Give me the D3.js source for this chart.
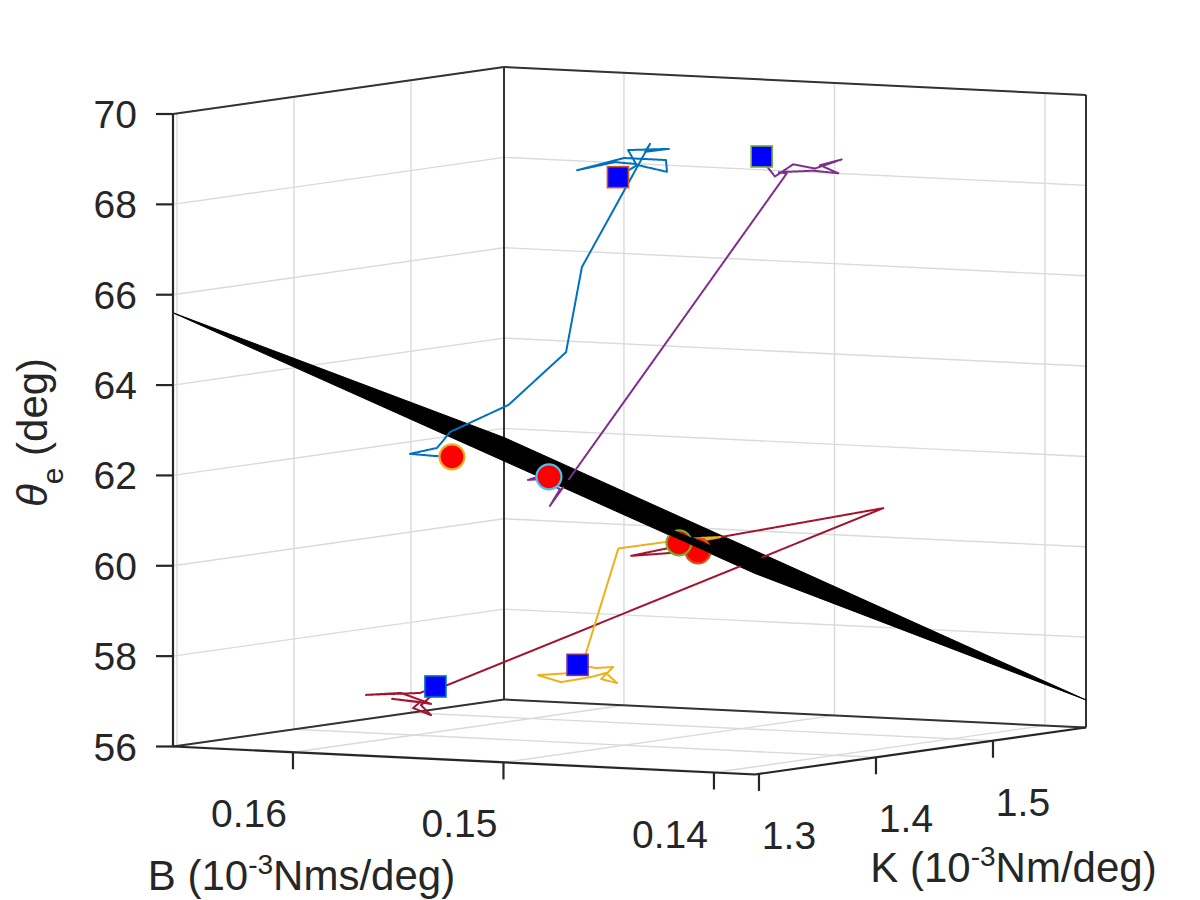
<!DOCTYPE html>
<html><head><meta charset="utf-8">
<script src="https://cdn.jsdelivr.net/npm/d3@7"></script>
<style>body{margin:0;background:#fff} svg{display:block}</style>
</head><body>
<svg id="c" width="1200" height="900"></svg>
<script>
// ---------------- data ----------------
const bLim = [0.13805, 0.1657];   // B axis limits (10^-3 Nms/deg)
const kLim = [1.2966, 1.5795];    // K axis limits (10^-3 Nm/deg)
const zLim = [56, 70];            // theta_e limits (deg)
const bTicks = [0.16, 0.15, 0.14];
const bTickLabels = ["0.16", "0.15", "0.14"];
const kTicks = [1.3, 1.4, 1.5];
const kTickLabels = ["1.3", "1.4", "1.5"];
const zTicks = [56, 58, 60, 62, 64, 66, 68, 70];
const zTickLabels = ["56", "58", "60", "62", "64", "66", "68", "70"];

// black surface (rows: B values, cols: K values)
const surfB = [0.1657, 0.13805];
const surfK = [1.2966, 1.5795];
const surfZ = [[65.60, 61.80], [60.45, 56.61]];

// trajectories
const blueB = [0.15321,0.15230,0.15088,0.15093,0.15292,0.15515,0.15335,0.15235,0.15273,0.15079,0.15192,0.15169,0.15335,0.15253,0.15369,0.15331,0.15394,0.15523,0.15404,0.15323];
const blueK = [1.4522,1.4522,1.4522,1.4522,1.4522,1.4522,1.4522,1.4522,1.4522,1.4522,1.4522,1.4522,1.4239,1.3956,1.3673,1.3107,1.3107,1.3107,1.3107,1.3107];
const blueZ = [68.31,68.60,68.48,68.74,68.74,68.42,68.64,68.62,68.92,68.99,68.90,69.08,66.42,64.66,63.57,63.19,62.82,62.66,62.64,62.64];

const purpleB = [0.14481,0.14444,0.14475,0.14418,0.14331,0.14228,0.14101,0.14204,0.14117,0.14236,0.14399,0.14362,0.15487,0.15203,0.15062,0.15041,0.14919,0.14784];
const purpleK = [1.4239,1.4239,1.4239,1.4239,1.4239,1.4239,1.4239,1.4239,1.4239,1.4239,1.4239,1.4239,1.4239,1.3815,1.3390,1.3249,1.3107,1.2966];
const purpleZ = [69.06,68.92,68.96,68.63,68.92,68.85,69.08,68.93,68.77,68.80,68.73,68.71,61.10,61.69,62.10,62.14,62.28,62.37];

const redB = [0.15795,0.15868,0.16125,0.15959,0.15816,0.16001,0.15868,0.15901,0.15816,0.15864,0.15773,0.14768,0.14905,0.15023,0.14626];
const redK = [1.3815,1.3815,1.3815,1.3815,1.3815,1.3815,1.3815,1.3815,1.3815,1.3815,1.3815,1.5795,1.4663,1.4098,1.3956];
const redZ = [57.19,57.03,56.93,57.01,56.80,56.87,56.83,56.69,56.55,56.76,57.16,60.64,60.39,60.15,60.40];

const yellowB = [0.15120,0.15032,0.14951,0.15008,0.14932,0.14985,0.15051,0.15199,0.15308,0.15156,0.15099,0.14926,0.14693,0.14538,0.14443,0.14514,0.14638];
const yellowK = [1.3815,1.3815,1.3815,1.3815,1.3815,1.3815,1.3815,1.3815,1.3815,1.3815,1.3815,1.3815,1.3815,1.3815,1.3815,1.3815,1.3815];
const yellowZ = [57.82,57.77,57.81,57.53,57.46,57.67,57.57,57.42,57.55,57.63,57.80,60.44,60.64,60.76,60.80,60.72,60.63];

const trajColors  = ["#0072BD", "#7E2F8E", "#A2142F", "#EDB120"];
const squareEdges = ["#D95319", "#77AC30", "#0072BD", "#7E2F8E"];
const circleEdges = ["#EDB120", "#4DBEEE", "#D95319", "#77AC30"];

// ---------------- projection ----------------
const O = [173, 746.5], AX = [582, 28], AY = [331, -47], AZ = [0, -632.5];
const uS = d3.scaleLinear().domain([bLim[1], bLim[0]]).range([0, 1]);
const vS = d3.scaleLinear().domain([kLim[0], kLim[1]]).range([0, 1]);
const wS = d3.scaleLinear().domain(zLim).range([0, 1]);
function P(u, v, w) {
  return [O[0] + u*AX[0] + v*AY[0] + w*AZ[0], O[1] + u*AX[1] + v*AY[1] + w*AZ[1]];
}
function PD(b, k, z) { return P(uS(b), vS(k), wS(z)); }

// orthographic depth reconstruction
const ratio = -(AY[0]*AY[1]) / (AX[0]*AX[1]);
const p2 = AX[0]*AX[0] + AY[0]*AY[0]/ratio, q2 = ratio*p2;
const r2 = AZ[1]*AZ[1] / (1 - AX[1]*AX[1]/p2 - AY[1]*AY[1]/q2);
const pp = Math.sqrt(p2), qq = Math.sqrt(q2), rr = Math.sqrt(r2);
const R1 = [AX[0]/pp, AY[0]/qq, AZ[0]/rr], R2 = [AX[1]/pp, AY[1]/qq, AZ[1]/rr];
let R3 = [R1[1]*R2[2]-R1[2]*R2[1], R1[2]*R2[0]-R1[0]*R2[2], R1[0]*R2[1]-R1[1]*R2[0]];
function depthRaw(u, v, w) { return R3[0]*pp*u + R3[1]*qq*v + R3[2]*rr*w; }
if (depthRaw(0, 1, 0) < depthRaw(1, 0, 0)) R3 = R3.map(d => -d);
const depth = depthRaw;

// plane
const su = surfB.map(uS), sv = surfK.map(vS);
const w00 = wS(surfZ[0][0]), w10 = wS(surfZ[1][0]), w01 = wS(surfZ[0][1]);
const a1 = (w10 - w00)/(su[1]-su[0]), a2 = (w01 - w00)/(sv[1]-sv[0]);
const a0 = w00 - a1*su[0] - a2*sv[0];
const uMin = Math.min(...su), uMax = Math.max(...su), vMin = Math.min(...sv), vMax = Math.max(...sv);
function planeAt(x, y) {
  const m00 = AX[0]+a1*AZ[0], m01 = AY[0]+a2*AZ[0], m10 = AX[1]+a1*AZ[1], m11 = AY[1]+a2*AZ[1];
  const r0 = x - O[0] - a0*AZ[0], r1 = y - O[1] - a0*AZ[1];
  const det = m00*m11 - m01*m10;
  const u = (r0*m11 - m01*r1)/det, v = (m00*r1 - m10*r0)/det;
  return {u, v, w: a0 + a1*u + a2*v};
}
function hidden(u, v, w) {
  const s = P(u, v, w), q = planeAt(s[0], s[1]);
  if (q.u < uMin || q.u > uMax || q.v < vMin || q.v > vMax) return false;
  return depth(q.u, q.v, q.w) < depth(u, v, w) - 0.01;
}

// ---------------- drawing ----------------
const svg = d3.select("#c");
const defs = svg.append("defs");
const gGrid = svg.append("g"), gBox = svg.append("g"), gSurf = svg.append("g"),
      gLines = svg.append("g"), gMark = svg.append("g"), gAxes = svg.append("g"), gText = svg.append("g");
const FONT = "'Liberation Sans', Arial, Helvetica, sans-serif";
const AXC = "#262626";

function seg(g, a, b, color, width) {
  g.append("line").attr("x1", a[0]).attr("y1", a[1]).attr("x2", b[0]).attr("y2", b[1])
    .attr("stroke", color).attr("stroke-width", width).attr("stroke-linecap", "butt");
}
const GC = "#dadada", GW = 1.4;
zTicks.forEach(z => {
  const w = wS(z);
  seg(gGrid, P(0,0,w), P(0,1,w), GC, GW);
  seg(gGrid, P(0,1,w), P(1,1,w), GC, GW);
});
kTicks.forEach(k => {
  const v = vS(k);
  seg(gGrid, P(0,v,0), P(0,v,1), GC, GW);
  seg(gGrid, P(0,v,0), P(1,v,0), GC, GW);
});
bTicks.forEach(b => {
  const u = uS(b);
  seg(gGrid, P(u,1,0), P(u,1,1), GC, GW);
  seg(gGrid, P(u,0,0), P(u,1,0), GC, GW);
});
const BC = "#333333", BW = 2;
seg(gBox, P(0,0,1), P(0,1,1), BC, BW);
seg(gBox, P(0,1,1), P(1,1,1), BC, BW);
seg(gBox, P(0,1,0), P(0,1,1), BC, BW);
seg(gBox, P(1,1,0), P(1,1,1), BC, BW);
seg(gBox, P(0,0,0), P(0,1,0), BC, BW);
seg(gBox, P(0,1,0), P(1,1,0), BC, BW);

// surface
const quad = [[0,0],[0,1],[1,1],[1,0]].map(([i,j]) => PD(surfB[i], surfK[j], surfZ[i][j]));
gSurf.append("polygon").attr("points", quad.map(d => d.join(",")).join(" "))
  .attr("fill", "#000").attr("stroke", "#000").attr("stroke-width", 1).attr("stroke-linejoin", "round");

// trajectories with occlusion by surface
const trajs = [[blueB, blueK, blueZ], [purpleB, purpleK, purpleZ], [redB, redK, redZ], [yellowB, yellowK, yellowZ]];
trajs.forEach(([B, K, Z], ti) => {
  const pts = B.map((b, i) => [uS(b), vS(K[i]), wS(Z[i])]);
  let d = "", down = false;
  for (let i = 0; i < pts.length - 1; i++) {
    const a = pts[i], b = pts[i+1];
    const sa = P(...a), sb = P(...b);
    const n = Math.max(1, Math.ceil(Math.hypot(sb[0]-sa[0], sb[1]-sa[1]) / 1.0));
    for (let k = 0; k < n; k++) {
      const t0 = k/n, t1 = (k+1)/n, tm = (t0+t1)/2;
      const m = [0,1,2].map(c => a[c] + tm*(b[c]-a[c]));
      const vis = !hidden(...m);
      if (vis) {
        const p0 = [sa[0]+t0*(sb[0]-sa[0]), sa[1]+t0*(sb[1]-sa[1])];
        const p1 = [sa[0]+t1*(sb[0]-sa[0]), sa[1]+t1*(sb[1]-sa[1])];
        if (!down) d += `M${p0[0].toFixed(2)},${p0[1].toFixed(2)}`;
        d += `L${p1[0].toFixed(2)},${p1[1].toFixed(2)}`;
        down = true;
      } else down = false;
    }
  }
  gLines.append("path").attr("d", d).attr("fill", "none").attr("stroke", trajColors[ti])
    .attr("stroke-width", 2).attr("stroke-linejoin", "round").attr("stroke-linecap", "round");
});

// markers, with the part lying behind the surface covered
function clipPoly(poly, g) {
  const out = [];
  for (let i = 0; i < poly.length; i++) {
    const a = poly[i], b = poly[(i+1) % poly.length];
    const ga = g(a), gb = g(b);
    if (ga <= 0) out.push(a);
    if ((ga <= 0) !== (gb <= 0)) {
      const t = ga/(ga-gb);
      out.push([a[0]+t*(b[0]-a[0]), a[1]+t*(b[1]-a[1])]);
    }
  }
  return out;
}
let clipId = 0;
function cover(uvw, shapeFn) {
  const s = P(...uvw), dm = depth(...uvw);
  const pd = (x, y) => { const q = planeAt(x, y); return depth(q.u, q.v, q.w); };
  const g0 = pd(s[0], s[1]) - dm, gx = pd(s[0]+1, s[1]) - dm - g0, gy = pd(s[0], s[1]+1) - dm - g0;
  const g = pt => g0 + gx*(pt[0]-s[0]) + gy*(pt[1]-s[1]);
  const poly = clipPoly(quad, g);
  if (poly.length < 3) return;
  const id = "mk" + (clipId++);
  shapeFn(defs.append("clipPath").attr("id", id));
  gMark.append("polygon").attr("points", poly.map(d => d.join(",")).join(" "))
    .attr("fill", "#000").attr("clip-path", `url(#${id})`);
}
trajs.forEach(([B, K, Z], ti) => {
  const n = B.length;
  const a = [uS(B[0]), vS(K[0]), wS(Z[0])], sa = P(...a);
  gMark.append("rect").attr("x", sa[0]-10.5).attr("y", sa[1]-10.5).attr("width", 21).attr("height", 21)
    .attr("fill", "#0000FF").attr("stroke", squareEdges[ti]).attr("stroke-width", 1.6);
  cover(a, c => c.append("rect").attr("x", sa[0]-12).attr("y", sa[1]-12).attr("width", 24).attr("height", 24));
  const e = [uS(B[n-1]), vS(K[n-1]), wS(Z[n-1])], se = P(...e);
  gMark.append("circle").attr("cx", se[0]).attr("cy", se[1]).attr("r", 12.5)
    .attr("fill", "#FF0000").attr("stroke", circleEdges[ti]).attr("stroke-width", 2.2);
  cover(e, c => c.append("circle").attr("cx", se[0]).attr("cy", se[1]).attr("r", 14));
});

// axes (front)
const AW = 2.2;
seg(gAxes, P(0,0,0), P(0,0,1), AXC, AW);
seg(gAxes, P(0,0,0), P(1,0,0), AXC, AW);
seg(gAxes, P(1,0,0), P(1,1,0), AXC, AW);
const TL = 17;
const TF = 39;
zTicks.forEach((z, i) => {
  const s = P(0,0,wS(z));
  seg(gAxes, s, [s[0]-TL, s[1]], AXC, AW);
  gText.append("text").attr("x", 137).attr("y", s[1] + 14).attr("text-anchor", "end")
    .attr("font-family", FONT).attr("font-size", TF).attr("fill", AXC).text(zTickLabels[i]);
});
bTicks.forEach((b, i) => {
  const s = P(uS(b),0,0);
  seg(gAxes, s, [s[0], s[1]+TL], AXC, AW);
  gText.append("text").attr("x", s[0] - 44).attr("y", s[1] + 75).attr("text-anchor", "middle")
    .attr("font-family", FONT).attr("font-size", TF).attr("fill", AXC).text(bTickLabels[i]);
});
kTicks.forEach((k, i) => {
  const s = P(1,vS(k),0);
  seg(gAxes, s, [s[0], s[1]+TL], AXC, AW);
  gText.append("text").attr("x", s[0] + 30).attr("y", s[1] + 75).attr("text-anchor", "middle")
    .attr("font-family", FONT).attr("font-size", TF).attr("fill", AXC).text(kTickLabels[i]);
});

// axis labels
function supLabel(x, y, pre, sup, post) {
  const t = gText.append("text").attr("x", x).attr("y", y).attr("text-anchor", "middle")
    .attr("font-family", FONT).attr("font-size", 42).attr("fill", AXC);
  t.append("tspan").text(pre);
  t.append("tspan").attr("font-size", 28).attr("dy", -16).text(sup);
  t.append("tspan").attr("dy", 16).text(post);
}
supLabel(301.5, 890, "B (10", "-3", "Nms/deg)");
supLabel(1013.5, 882, "K (10", "-3", "Nm/deg)");
const yl = gText.append("text").attr("transform", "translate(47,432.5) rotate(-90)")
  .attr("text-anchor", "middle").attr("font-family", FONT).attr("font-size", 42).attr("fill", AXC);
yl.append("tspan").attr("font-style", "italic").text("θ");
yl.append("tspan").attr("font-size", 30).attr("dy", 16).text("e");
yl.append("tspan").attr("dy", -16).text(" (deg)");
</script>
</body></html>
